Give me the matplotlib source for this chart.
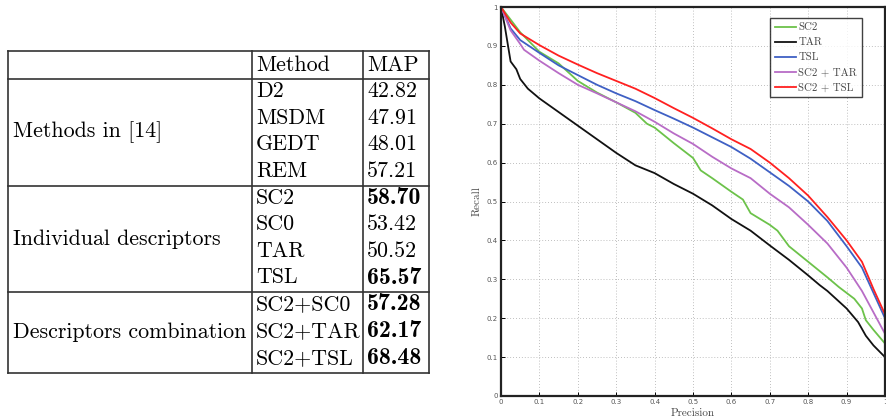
import matplotlib
matplotlib.use("Agg")
import matplotlib.pyplot as plt
import numpy as np

# ---------------- data ----------------
sections = ["Methods in [14]", "Individual descriptors", "Descriptors combination"]
section_methods = [["D2", "MSDM", "GEDT", "REM"],
                   ["SC2", "SC0", "TAR", "TSL"],
                   ["SC2+SC0", "SC2+TAR", "SC2+TSL"]]
section_maps = [["42.82", "47.91", "48.01", "57.21"],
                ["58.70", "53.42", "50.52", "65.57"],
                ["57.28", "62.17", "68.48"]]
section_bold = [[False, False, False, False],
                [True, False, False, True],
                [True, True, True]]

series_names = ["SC2", "TAR", "TSL", "SC2 + TAR", "SC2 + TSL"]
series_colors = ["#6cc24a", "#111111", "#3f60c4", "#b86cc6", "#ff2020"]

x_sc2 = [0, 0.05, 0.1, 0.15, 0.2, 0.25, 0.3, 0.35, 0.38, 0.4, 0.45, 0.5, 0.52, 0.55, 0.6, 0.63, 0.65, 0.7, 0.72, 0.75, 0.8, 0.85, 0.88, 0.9, 0.92, 0.94, 0.95, 0.97, 1.0]
y_sc2 = [1, 0.935, 0.885, 0.855, 0.81, 0.78, 0.755, 0.728, 0.70, 0.69, 0.65, 0.612, 0.58, 0.56, 0.525, 0.505, 0.47, 0.44, 0.425, 0.385, 0.345, 0.305, 0.28, 0.265, 0.25, 0.225, 0.195, 0.17, 0.135]

x_tar = [0, 0.01, 0.025, 0.04, 0.05, 0.07, 0.1, 0.15, 0.2, 0.25, 0.3, 0.35, 0.4, 0.45, 0.5, 0.55, 0.6, 0.65, 0.7, 0.75, 0.8, 0.83, 0.85, 0.9, 0.93, 0.95, 0.97, 1.0]
y_tar = [1, 0.95, 0.86, 0.84, 0.815, 0.79, 0.765, 0.73, 0.695, 0.66, 0.625, 0.593, 0.573, 0.545, 0.52, 0.49, 0.455, 0.425, 0.387, 0.35, 0.31, 0.285, 0.27, 0.225, 0.19, 0.155, 0.13, 0.10]

x_tsl = [0, 0.025, 0.05, 0.1, 0.15, 0.2, 0.25, 0.3, 0.35, 0.4, 0.45, 0.5, 0.55, 0.6, 0.65, 0.7, 0.75, 0.8, 0.85, 0.9, 0.94, 0.97, 1.0]
y_tsl = [1, 0.945, 0.915, 0.882, 0.85, 0.825, 0.80, 0.778, 0.758, 0.735, 0.713, 0.69, 0.665, 0.64, 0.61, 0.575, 0.54, 0.50, 0.45, 0.385, 0.33, 0.265, 0.20]

x_sc2tar = [0, 0.025, 0.05, 0.06, 0.1, 0.15, 0.2, 0.25, 0.3, 0.35, 0.4, 0.45, 0.5, 0.55, 0.6, 0.65, 0.7, 0.75, 0.8, 0.85, 0.9, 0.94, 0.97, 1.0]
y_sc2tar = [1, 0.94, 0.905, 0.89, 0.862, 0.83, 0.80, 0.778, 0.755, 0.732, 0.705, 0.675, 0.648, 0.615, 0.585, 0.56, 0.52, 0.485, 0.44, 0.392, 0.33, 0.27, 0.215, 0.16]

x_sc2tsl = [0, 0.025, 0.05, 0.1, 0.15, 0.2, 0.25, 0.3, 0.35, 0.4, 0.45, 0.5, 0.55, 0.6, 0.65, 0.7, 0.75, 0.8, 0.85, 0.9, 0.94, 0.97, 1.0]
y_sc2tsl = [1, 0.96, 0.932, 0.902, 0.875, 0.852, 0.83, 0.81, 0.79, 0.766, 0.74, 0.715, 0.688, 0.66, 0.635, 0.60, 0.56, 0.515, 0.46, 0.40, 0.345, 0.275, 0.21]

series_x = [x_sc2, x_tar, x_tsl, x_sc2tar, x_sc2tsl]
series_y = [y_sc2, y_tar, y_tsl, y_sc2tar, y_sc2tsl]

x_ticks = [0, 0.1, 0.2, 0.3, 0.4, 0.5, 0.6, 0.7, 0.8, 0.9, 1.0]
x_ticklabels = ["0", "0.1", "0.2", "0.3", "0.4", "0.5", "0.6", "0.7", "0.8", "0.9", "1"]
y_ticks = [0, 0.1, 0.2, 0.3, 0.4, 0.5, 0.6, 0.7, 0.8, 0.9, 1.0]
y_ticklabels = ["0", "0.1", "0.2", "0.3", "0.4", "0.5", "0.6", "0.7", "0.8", "0.9", "1"]

# ---------------- figure ----------------
W, H = 886, 418
fig = plt.figure(figsize=(W / 100, H / 100), dpi=100)

# Table drawn in pixel coordinates
axt = fig.add_axes([0, 0, 1, 1])
axt.set_xlim(0, W)
axt.set_ylim(H, 0)
axt.axis("off")

tab_left, tab_right = 8, 429
col1, col2 = 252, 363
top, head_bot = 51, 79
fs = 15.8
fs_b = 17.2
lc = "#333333"

axt.text(col1 + 4, (top + head_bot) / 2, "Method", family="cmr10", fontsize=fs, va="center", ha="left")
axt.text(col2 + 4, (top + head_bot) / 2, "MAP", family="cmr10", fontsize=fs, va="center", ha="left")

y0 = head_bot
sep_lines = [top, head_bot]
for sec, meths, maps, bolds in zip(sections, section_methods, section_maps, section_bold):
    n = len(meths)
    sh = 106.5 if n == 4 else 80.5
    rh = sh / n
    for i, (m, v, b) in enumerate(zip(meths, maps, bolds)):
        yc = y0 + rh * (i + 0.5) - 1
        axt.text(col1 + 4, yc, m, family="cmr10", fontsize=fs, va="center", ha="left")
        axt.text(col2 + 4, yc, v, family="cmb10" if b else "cmr10", fontsize=fs_b if b else fs,
                 va="center", ha="left")
    axt.text(tab_left + 5, y0 + sh / 2, sec, family="cmr10", fontsize=fs, va="center", ha="left")
    y0 = y0 + sh
    sep_lines.append(y0)

for yy in sep_lines:
    axt.plot([tab_left, tab_right], [yy, yy], color=lc, lw=1.2, solid_capstyle="projecting")
for xx in [tab_left, col1, col2, tab_right]:
    axt.plot([xx, xx], [top, sep_lines[-1]], color=lc, lw=1.2)

# Line chart
ax = fig.add_axes([501 / W, (H - 396) / H, 384 / W, 389 / H])
for xs, ys, name, c in zip(series_x, series_y, series_names, series_colors):
    ax.plot(xs, ys, color=c, lw=1.3, label=name)
ax.set_xlim(0, 1)
ax.set_ylim(0, 1)
ax.set_xticks(x_ticks)
ax.set_xticklabels(x_ticklabels, family="DejaVu Sans", fontsize=5, color="#555555")
ax.set_yticks(y_ticks)
ax.set_yticklabels(y_ticklabels, family="DejaVu Sans", fontsize=5, color="#555555")
ax.tick_params(direction="in", length=3, width=0.7, pad=2.5)
ax.grid(True, linestyle=(0, (1, 2.5)), color="#aaaaaa", lw=0.6)
for s in ax.spines.values():
    s.set_linewidth(1.6)
    s.set_color("#222222")
ax.set_xlabel("Precision", family="cmr10", fontsize=8, labelpad=2, color="#444444")
ax.set_ylabel("Recall", family="cmr10", fontsize=8, labelpad=3, color="#444444")
leg = ax.legend(loc="upper right", bbox_to_anchor=(0.94, 0.972), prop={"family": "cmr10", "size": 7.8},
                frameon=True, fancybox=False, edgecolor="#111111", handlelength=2.0,
                borderpad=0.45, labelspacing=0.5, handletextpad=0.2, borderaxespad=0)
leg.get_frame().set_linewidth(1.0)
for t in leg.get_texts():
    t.set_color("#444444")

fig.savefig("out.png", dpi=100)
